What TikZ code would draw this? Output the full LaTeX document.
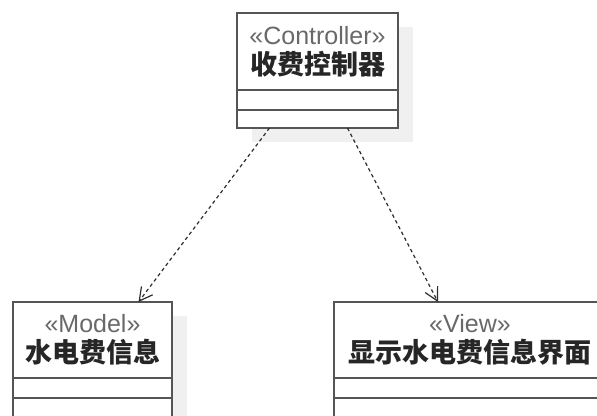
\documentclass[tikz,border=0pt]{standalone}
\usepackage{fontspec}
\setsansfont{Liberation Sans}
\newfontfamily\cjk{Noto Sans CJK SC}
\usetikzlibrary{positioning,arrows.meta,backgrounds}

\definecolor{boxline}{RGB}{85,85,85}
\definecolor{shadegray}{RGB}{240,240,240}
\definecolor{stereogray}{RGB}{105,105,105}
\definecolor{depgray}{RGB}{45,45,45}

\newcommand\umlname[2]{{\sffamily\color{stereogray}«#1»}\\[4pt]%
  {\cjk\bfseries\fontsize{27}{27}\selectfont\color{black!85}#2}}

\tikzset{
  namebox/.style={draw=boxline, line width=2pt, fill=white, outer sep=0pt,
    inner sep=0pt, minimum height=77pt, align=center, anchor=north,
    font=\fontsize{25}{26}\selectfont},
  compbox/.style={draw=boxline, line width=2pt, fill=white, outer sep=0pt,
    inner sep=0pt, minimum height=20pt, below=0pt of #1},
  dep/.style={draw=depgray, line width=1.2pt, dash pattern=on 3.5pt off 3pt,
    -{Straight Barb[length=13pt,width=14pt]}}
}

\begin{document}
\begin{tikzpicture}[x=1pt, y=1pt]
\useasboundingbox (0,0) rectangle (597,415);

\node[namebox, minimum width=161pt] (ctrl) at (317.5,402) {\umlname{Controller}{收费控制器}};
\node[compbox=ctrl, minimum width=161pt] (ctrlattr) {};
\node[compbox=ctrlattr, minimum width=161pt, minimum height=18pt] (ctrlops) {};

\node[namebox, minimum width=159pt, minimum height=76pt] (model) at (92.5,113) {\umlname{Model}{水电费信息}};
\node[compbox=model, minimum width=159pt] (modelattr) {};
\node[compbox=modelattr, minimum width=159pt] (modelops) {};

\node[namebox, minimum width=272pt, minimum height=76pt] (view) at (470,113) {\umlname{View}{显示水电费信息界面}};
\node[compbox=view, minimum width=272pt] (viewattr) {};
\node[compbox=viewattr, minimum width=272pt] (viewops) {};

% shadows
\begin{scope}[on background layer]
\foreach \top/\bot in {ctrl/ctrlops, model/modelops, view/viewops}
  \fill[shadegray] ([shift={(15pt,-14pt)}]\top.north west) rectangle ([shift={(15pt,-14pt)}]\bot.south east);
\end{scope}

\draw[dep] ([xshift=-48pt]ctrlops.south) -- ([xshift=46pt]model.north);
\draw[dep] ([xshift=30pt]ctrlops.south) -- ([xshift=-32pt]view.north);
\end{tikzpicture}
\end{document}
